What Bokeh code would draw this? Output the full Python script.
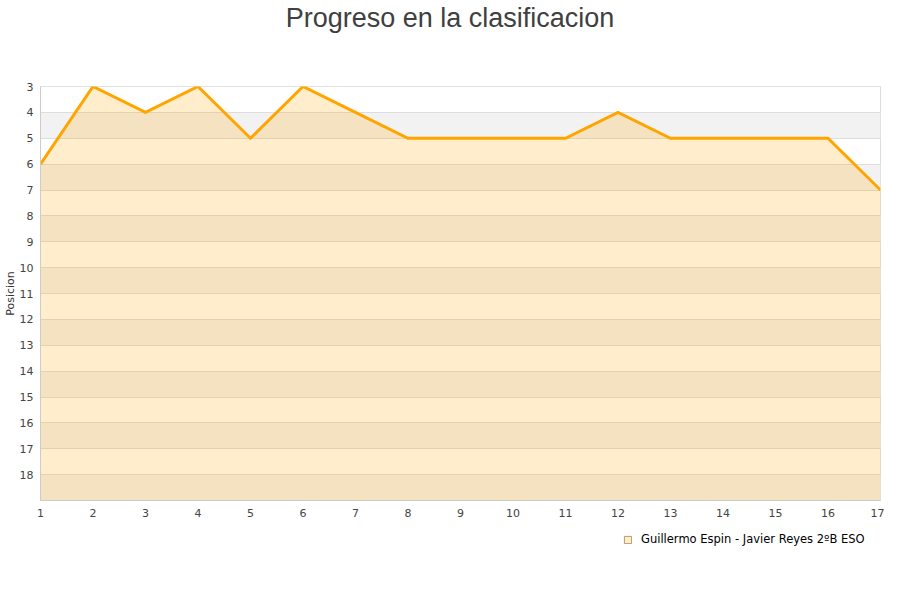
from bokeh.plotting import figure
from bokeh.models import Range1d, FixedTicker, Legend, LegendItem, Label
from bokeh.layouts import column
from bokeh.embed import file_html
from bokeh.resources import INLINE

jornadas = list(range(1, 18))
posiciones = [6, 3, 4, 3, 5, 3, 4, 5, 5, 5, 5, 4, 5, 5, 5, 5, 7]
y_ticks = list(range(3, 19))
grid_ticks = list(range(2, 20))
y_top, y_bottom = 3, 19
serie = "Guillermo Espin - Javier Reyes 2ºB ESO"
titulo = "Progreso en la clasificacion"

W = 884
H_TITLE, H_MAIN, H_LEG = 40, 485, 59
LEFT, RIGHT = 40, 4


def blank(h):
    f = figure(width=W, height=h, output_backend="svg", toolbar_location=None,
               x_range=Range1d(LEFT, W - RIGHT), y_range=Range1d(0, h),
               min_border=0, min_border_left=LEFT, min_border_right=RIGHT,
               x_axis_type=None, y_axis_type=None)
    f.outline_line_color = None
    f.xgrid.visible = False
    f.ygrid.visible = False
    return f


# ---- title strip
pt = blank(H_TITLE)
pt.add_layout(Label(x=449.5, y=H_TITLE - 17, text=titulo, text_align="center",
                    text_baseline="middle", text_font="Liberation Sans",
                    text_font_size="27px", text_color="#404040"))

# ---- main chart
p = figure(width=W, height=H_MAIN, output_backend="svg", toolbar_location=None,
           x_range=Range1d(1, 17), y_range=Range1d(y_bottom, y_top),
           min_border_left=LEFT, min_border_right=RIGHT, min_border_top=46,
           min_border_bottom=25)
p.outline_line_color = "#dddddd"

for ax in (p.xaxis, p.yaxis):
    ax.major_tick_line_color = None
    ax.minor_tick_line_color = None
    ax.major_tick_out = 0
    ax.minor_tick_out = 0
    ax.major_tick_in = 0
    ax.axis_line_color = "#cccccc"
    ax.major_label_text_font = "DejaVu Sans"
    ax.major_label_text_font_size = "11px"
    ax.major_label_text_color = "#444444"

p.xaxis.ticker = FixedTicker(ticks=jornadas)
p.xaxis.major_label_standoff = 8
p.yaxis.ticker = FixedTicker(ticks=y_ticks)
p.yaxis.major_label_standoff = 7
p.yaxis.axis_label = "Posicion"
p.yaxis.axis_label_standoff = 0
p.yaxis.axis_label_text_font = "DejaVu Sans"
p.yaxis.axis_label_text_font_size = "11px"
p.yaxis.axis_label_text_font_style = "normal"
p.yaxis.axis_label_text_color = "#333333"

p.xgrid.visible = False
p.ygrid.ticker = FixedTicker(ticks=grid_ticks)
p.ygrid.grid_line_color = "#dddddd"
p.ygrid.band_fill_color = "#f2f2f2"
p.ygrid.band_fill_alpha = 1.0

p.varea(x=jornadas, y1=posiciones, y2=[y_bottom] * len(jornadas),
        fill_color="#ffa500", fill_alpha=0.2)
p.line(jornadas, posiciones, line_color="#ffa500", line_width=3, line_join="miter")

# ---- legend strip
pl = blank(H_LEG)
swatch = pl.quad(left=[-20], right=[-10], bottom=[-20], top=[-10],
                 fill_color="#ffa500", fill_alpha=0.2,
                 line_color="#b89a6a", line_width=1)
legend = Legend(items=[LegendItem(label=serie, renderers=[swatch])],
                location=(623 - LEFT, H_LEG - 21), glyph_width=9, glyph_height=9,
                label_text_font="DejaVu Sans", label_text_font_size="11.5px",
                label_text_color="#000000", border_line_color=None,
                background_fill_alpha=0, padding=0, margin=0, label_standoff=9)
pl.add_layout(legend, "center")

layout = column(pt, p, pl, spacing=0)
open("out.html", "w").write(file_html(layout, INLINE))
